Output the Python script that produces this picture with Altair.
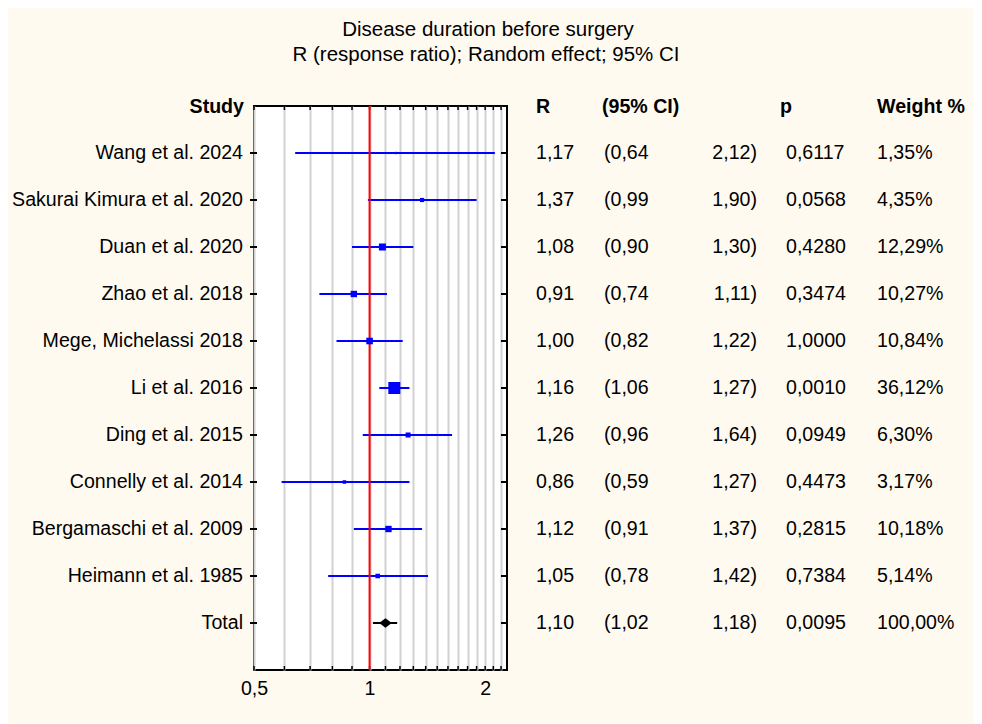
import altair as alt
import pandas as pd

# ---- data ----
studies = ["Wang et al. 2024", "Sakurai Kimura et al. 2020", "Duan et al. 2020",
           "Zhao et al. 2018", "Mege, Michelassi 2018", "Li et al. 2016",
           "Ding et al. 2015", "Connelly et al. 2014", "Bergamaschi et al. 2009",
           "Heimann et al. 1985", "Total"]
r_vals = [1.17, 1.37, 1.08, 0.91, 1.00, 1.16, 1.26, 0.86, 1.12, 1.05, 1.10]
ci_low = [0.64, 0.99, 0.90, 0.74, 0.82, 1.06, 0.96, 0.59, 0.91, 0.78, 1.02]
ci_high = [2.12, 1.90, 1.30, 1.11, 1.22, 1.27, 1.64, 1.27, 1.37, 1.42, 1.18]
p_vals = ["0,6117", "0,0568", "0,4280", "0,3474", "1,0000", "0,0010",
          "0,0949", "0,4473", "0,2815", "0,7384", "0,0095"]
weights = [1.35, 4.35, 12.29, 10.27, 10.84, 36.12, 6.30, 3.17, 10.18, 5.14, 100.00]
grid_ticks = [0.5, 0.6, 0.7, 0.8, 0.9, 1.0, 1.1, 1.2, 1.3, 1.4, 1.5, 1.6,
              1.7, 1.8, 1.9, 2.0, 2.1, 2.2]
headers = ["Study", "R", "(95% CI)", "p", "Weight %"]
title1 = "Disease duration before surgery"
title2 = "R (response ratio); Random effect; 95% CI"

def fmt(v):
    return f"{v:.2f}".replace(".", ",")

df = pd.DataFrame({"study": studies, "R": r_vals, "lo": ci_low, "hi": ci_high,
                   "p": p_vals, "weight": weights})
df["row"] = list(range(len(df)))
df["R_txt"] = [fmt(v) for v in r_vals]
df["lo_txt"] = ["(" + fmt(v) for v in ci_low]
df["hi_txt"] = [fmt(v) + ")" for v in ci_high]
df["w_txt"] = [fmt(v) + "%" for v in weights]

ticks_df = pd.DataFrame({"t": grid_ticks})
ref_df = pd.DataFrame({"v": [1.0]})
hdr_df = pd.DataFrame({"h": headers, "row": [-1] * len(headers)})

F = "Liberation Sans"
FS = 19.6
W, H = 253, 564

xs = alt.Scale(type="log", domain=[0.5, 2.28], nice=False)
ys = alt.Scale(domain=[-1, 11], reverse=True, nice=False, zero=False)
xaxis = alt.Axis(values=grid_ticks, grid=True, gridColor="#d2d2d2", gridWidth=2,
                 ticks=False, domain=False, labelOverlap=False, labelFlush=False,
                 labelExpr="datum.value == 0.5 ? '0,5' : datum.value == 1 ? '1' : datum.value == 2 ? '2' : ''",
                 labelFont=F, labelFontSize=FS, labelColor="black", labelPadding=9,
                 title=None)
Y = alt.Y("row:Q", scale=ys, axis=None)

studies_only = alt.Chart(df).transform_filter("datum.study != 'Total'")
total_only = alt.Chart(df).transform_filter("datum.study == 'Total'")

grid_layer = alt.Chart(ticks_df).mark_rule(color="black", strokeWidth=1.5).encode(
    x=alt.X("t:Q", scale=xs, axis=xaxis), y=alt.value(0), y2=alt.value(4))
grid_bottom = alt.Chart(ticks_df).mark_rule(color="black", strokeWidth=1.5).encode(
    x=alt.X("t:Q", scale=xs, axis=xaxis), y=alt.value(H), y2=alt.value(H - 4))

ci_lines = studies_only.mark_rule(color="#0000ff", strokeWidth=2).encode(
    x=alt.X("lo:Q", scale=xs, axis=xaxis), x2="hi:Q", y=Y)
ci_total = total_only.mark_rule(color="black", strokeWidth=2).encode(
    x=alt.X("lo:Q", scale=xs, axis=xaxis), x2="hi:Q", y=Y)
ref_line = alt.Chart(ref_df).mark_rule(color="#ff0000", strokeWidth=2).encode(
    x=alt.X("v:Q", scale=xs, axis=xaxis))
squares = studies_only.mark_point(shape="square", filled=True, color="#0000ff",
                                  opacity=1, strokeWidth=0).encode(
    x=alt.X("R:Q", scale=xs, axis=xaxis), y=Y,
    size=alt.Size("weight:Q", scale=alt.Scale(type="linear", domain=[0, 36.12],
                                              range=[0, 144]), legend=None))
diamond = total_only.mark_point(shape="M -1 0 L 0 -0.75 L 1 0 L 0 0.75 Z",
                                filled=True, color="black", opacity=1, size=160,
                                strokeWidth=0).encode(
    x=alt.X("R:Q", scale=xs, axis=xaxis), y=Y)

left_ticks = alt.Chart(df).mark_rule(color="black", strokeWidth=2).encode(
    x=alt.value(-4), x2=alt.value(3), y=Y)
right_ticks = alt.Chart(df).mark_rule(color="black", strokeWidth=2).encode(
    x=alt.value(W - 6), x2=alt.value(W), y=Y)

def col(field, xpx, align="left"):
    return alt.Chart(df).mark_text(align=align, baseline="middle", font=F,
                                   fontSize=FS, color="black").encode(
        x=alt.value(xpx), y=Y, text=f"{field}:N")

def hdr(name, xpx, align="left"):
    return alt.Chart(hdr_df).transform_filter(f"datum.h == '{name}'").mark_text(
        align=align, baseline="middle", font=F, fontSize=FS, fontWeight="bold",
        color="black", dy=1).encode(x=alt.value(xpx), y=Y, text="h:N")

def ttl(text, xpx, ypx):
    return alt.Chart(pd.DataFrame({"t": [text]})).mark_text(
        align="center", baseline="alphabetic", font=F, fontSize=20.5,
        color="black").encode(x=alt.value(xpx), y=alt.value(ypx), text="t:N")

chart = alt.layer(
    grid_layer, grid_bottom, ci_lines, ci_total, ref_line, squares, diamond,
    left_ticks, right_ticks,
    col("study", -11, "right"), col("R_txt", 282), col("lo_txt", 350),
    col("hi_txt", 503, "right"), col("p", 532), col("w_txt", 623),
    hdr("Study", -10, "right"), hdr("R", 282), hdr("(95% CI)", 348),
    hdr("p", 526), hdr("Weight %", 623),
    ttl(title1, 234, -70), ttl(title2, 232, -45),
).properties(
    width=W, height=H,
    autosize=alt.AutoSizeParams(type="none"),
    padding={"left": 246, "top": 98, "right": 466, "bottom": 53},
).configure(background="#fffaf0").configure_view(
    fill="white", stroke="black", strokeWidth=2)

chart.save("out.html", embed_options={"renderer": "svg", "actions": False})
